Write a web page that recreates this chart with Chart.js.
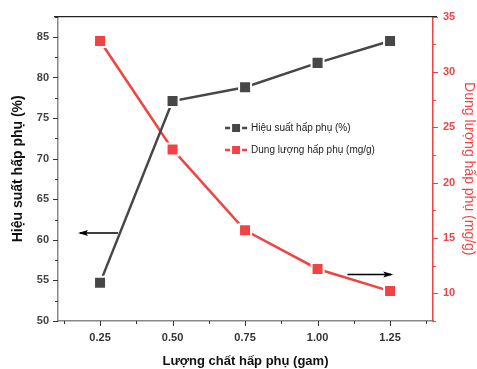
<!DOCTYPE html>
<html><head><meta charset="utf-8">
<script src="https://cdn.jsdelivr.net/npm/chart.js@4/dist/chart.umd.min.js"></script>
<style>html,body{margin:0;padding:0;background:#fff}</style>
</head><body>
<canvas id="c" width="477" height="369"></canvas>
<script>
const categories = [0.25, 0.50, 0.75, 1.00, 1.25];
const efficiency = [54.7, 77.1, 78.8, 81.8, 84.5];
const capacity = [32.8, 23.0, 15.7, 12.2, 10.2];
const xTicks = [0.25, 0.50, 0.75, 1.00, 1.25];
const leftTicks = [50, 55, 60, 65, 70, 75, 80, 85];
const rightTicks = [10, 15, 20, 25, 30, 35];
const seriesNames = ['Hiệu suất hấp phụ (%)', 'Dung lượng hấp phụ (mg/g)'];
const xTitle = 'Lượng chất hấp phụ (gam)';
const leftTitle = 'Hiệu suất hấp phụ (%)';
const rightTitle = 'Dung lượng hấp phụ (mg/g)';

const DARK = '#474747';
const RED = '#f04444';
const FONT = 'Liberation Sans, Arial, sans-serif';

const decor = {
  id: 'decor',
  afterDraw(chart) {
    const ctx = chart.ctx;
    const {x, y, y1} = chart.scales;
    const a = chart.chartArea;
    ctx.save();
    // top border
    ctx.strokeStyle = '#222';
    ctx.lineWidth = 1.2;
    ctx.beginPath(); ctx.moveTo(a.left - 4, a.top); ctx.lineTo(a.right + 4, a.top); ctx.stroke();
    // x ticks
    ctx.strokeStyle = '#333'; ctx.lineWidth = 1;
    const xt = [];
    for (let v = 0.125; v < 1.4; v += 0.125) xt.push(v);
    xt.forEach(v => {
      const major = Math.abs((v / 0.25) - Math.round(v / 0.25)) < 1e-6;
      const px = Math.round(x.getPixelForValue(v)) + 0.5;
      ctx.beginPath(); ctx.moveTo(px, a.bottom); ctx.lineTo(px, a.bottom + (major ? 5 : 3)); ctx.stroke();
    });
    // left ticks
    for (let v = 50; v <= 87.5; v += 2.5) {
      const major = v % 5 === 0;
      const py = Math.round(y.getPixelForValue(v)) + 0.5;
      ctx.beginPath(); ctx.moveTo(a.left, py); ctx.lineTo(a.left - (major ? 5 : 3), py); ctx.stroke();
    }
    // right ticks
    ctx.strokeStyle = RED;
    for (let v = 7.5; v <= 35; v += 2.5) {
      const major = v % 5 === 0;
      const py = Math.round(y1.getPixelForValue(v)) + 0.5;
      ctx.beginPath(); ctx.moveTo(a.right, py); ctx.lineTo(a.right + (major ? 5 : 3), py); ctx.stroke();
    }
    // arrows
    const arrow = (x0, x1, py) => {
      ctx.strokeStyle = '#000'; ctx.fillStyle = '#000'; ctx.lineWidth = 1.5;
      ctx.beginPath(); ctx.moveTo(x0, py); ctx.lineTo(x1, py); ctx.stroke();
      const d = Math.sign(x1 - x0);
      ctx.beginPath(); ctx.moveTo(x1 + d * 2, py); ctx.lineTo(x1 - d * 8, py - 3); ctx.lineTo(x1 - d * 6, py); ctx.lineTo(x1 - d * 8, py + 3); ctx.closePath(); ctx.fill();
    };
    arrow(x.getPixelForValue(0.312), x.getPixelForValue(0.181), y.getPixelForValue(60.85));
    arrow(x.getPixelForValue(1.103), x.getPixelForValue(1.254), y1.getPixelForValue(11.7));
    // legend
    const ds = chart.data.datasets;
    const lx = x.getPixelForValue(0.719), ly0 = y.getPixelForValue(73.75), gap = 22;
    ds.forEach((d, i) => {
      const cy = Math.round(ly0 + i * gap);
      ctx.strokeStyle = d.borderColor; ctx.lineWidth = 2.5;
      ctx.beginPath(); ctx.moveTo(lx - 11, cy); ctx.lineTo(lx - 6, cy); ctx.moveTo(lx + 6, cy); ctx.lineTo(lx + 11, cy); ctx.stroke();
      ctx.fillStyle = d.borderColor;
      ctx.fillRect(lx - 4, cy - 4, 8, 8);
      ctx.fillStyle = '#222';
      ctx.font = '10px ' + FONT;
      ctx.textBaseline = 'middle';
      ctx.fillText(d.label, lx + 15, cy + 0.5);
    });
    ctx.restore();
  }
};

new Chart(document.getElementById('c'), {
  type: 'line',
  data: {
    datasets: [
      {
        label: seriesNames[0], yAxisID: 'y',
        data: categories.map((c, i) => ({x: c, y: efficiency[i]})),
        borderColor: DARK, backgroundColor: DARK, borderWidth: 2.5,
        pointStyle: 'rect', pointRadius: 8.5, pointBorderColor: '#fff', pointBorderWidth: 2,
        pointBackgroundColor: DARK, tension: 0
      },
      {
        label: seriesNames[1], yAxisID: 'y1',
        data: categories.map((c, i) => ({x: c, y: capacity[i]})),
        borderColor: RED, backgroundColor: RED, borderWidth: 2.5,
        pointStyle: 'rect', pointRadius: 8.5, pointBorderColor: '#fff', pointBorderWidth: 2,
        pointBackgroundColor: RED, tension: 0
      }
    ]
  },
  options: {
    responsive: false, animation: false, devicePixelRatio: 1,
    layout: {padding: {top: 16, left: 0, right: 0, bottom: 0}},
    plugins: {legend: {display: false}, tooltip: {enabled: false}},
    scales: {
      x: {
        type: 'linear', min: 0.105, max: 1.398,
        afterBuildTicks: s => { s.ticks = xTicks.map(v => ({value: v})); },
        afterFit: s => { s.height = 48; },
        grid: {display: true, drawOnChartArea: false, drawTicks: false},
        border: {color: '#888', width: 1.5},
        ticks: {padding: 10, color: '#333', font: {family: FONT, size: 11, weight: 'bold'},
          callback: v => v.toFixed(2), maxRotation: 0, autoSkip: false},
        title: {display: true, text: xTitle, color: '#111', padding: {top: 0, bottom: 0},
          font: {family: FONT, size: 13, weight: 'bold'}}
      },
      y: {
        type: 'linear', position: 'left', min: 50, max: 87.5,
        afterBuildTicks: s => { s.ticks = leftTicks.map(v => ({value: v})); },
        afterFit: s => { s.width = 58; },
        grid: {display: true, drawOnChartArea: false, drawTicks: false},
        border: {color: '#888', width: 1.5},
        ticks: {padding: 9, color: '#444', font: {family: FONT, size: 11, weight: 'bold'}},
        title: {display: true, text: leftTitle, color: '#111', padding: {top: 10, bottom: 0},
          font: {family: FONT, size: 14, weight: 'bold'}}
      },
      y1: {
        type: 'linear', position: 'right', min: 7.5, max: 35,
        afterBuildTicks: s => { s.ticks = rightTicks.map(v => ({value: v})); },
        afterFit: s => { s.width = 44; },
        grid: {display: true, drawOnChartArea: false, drawTicks: false},
        border: {color: RED, width: 1.5},
        ticks: {padding: 10, color: RED, font: {family: FONT, size: 11, weight: 'bold'}},
        title: {display: true, text: rightTitle, color: RED, padding: {top: 0, bottom: 0},
          font: {family: FONT, size: 14}}
      }
    }
  },
  plugins: [decor]
});
</script>
</body></html>
